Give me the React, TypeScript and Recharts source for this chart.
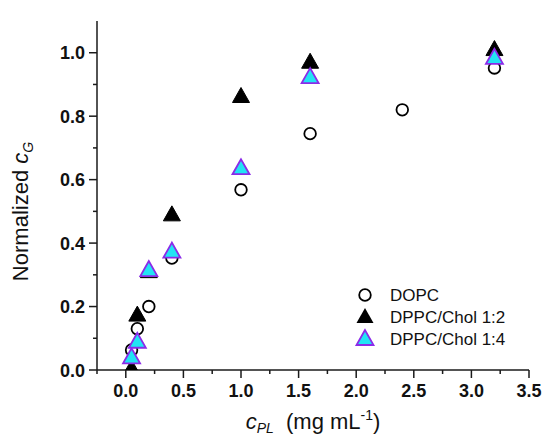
import { ScatterChart, Scatter, XAxis, YAxis, Legend } from 'recharts'

// c_PL (mg/mL) and normalized c_G for each lipid system
const dopcX = [0.05, 0.1, 0.2, 0.4, 1.0, 1.6, 2.4, 3.2]
const dopcY = [0.063, 0.13, 0.2, 0.353, 0.568, 0.745, 0.82, 0.952]

const chol12X = [0.05, 0.1, 0.2, 0.4, 1.0, 1.6, 3.2]
const chol12Y = [0.004, 0.173, 0.31, 0.489, 0.862, 0.97, 1.01]

const chol14X = [0.05, 0.1, 0.2, 0.4, 1.0, 1.6, 3.2]
const chol14Y = [0.04, 0.089, 0.315, 0.373, 0.636, 0.923, 0.984]

const seriesNames = ['DOPC', 'DPPC/Chol 1:2', 'DPPC/Chol 1:4']

const xTicks = [-0.25, 0, 0.25, 0.5, 0.75, 1.0, 1.25, 1.5, 1.75, 2.0, 2.25, 2.5, 2.75, 3.0, 3.25, 3.5]
const yTicks = [0, 0.1, 0.2, 0.3, 0.4, 0.5, 0.6, 0.7, 0.8, 0.9, 1.0]

const toPoints = (xs: number[], ys: number[]) => xs.map((x, i) => ({ x, y: ys[i] }))

const FONT = '"Liberation Sans", Arial, sans-serif'
const AXIS = '#1a1a1a'
const CYAN = '#22e4f4'
const PURPLE = '#8b2be8'

const isMajorX = (v: number) => Math.abs(v * 2 - Math.round(v * 2)) < 1e-6
const isMajorY = (v: number) => Math.abs(v * 5 - Math.round(v * 5)) < 1e-6

const tri = (cx: number, cy: number) =>
    `${cx},${cy - 9} ${cx - 8.5},${cy + 6} ${cx + 8.5},${cy + 6}`

const Circle = (props: any) => (
    <circle cx={props.cx} cy={props.cy} r={5.8} fill="none" stroke="#000" strokeWidth={1.8} />
)
const BlackTri = (props: any) => <polygon points={tri(props.cx, props.cy)} fill="#000" stroke="#000" strokeWidth={1} />
const CyanTri = (props: any) => (
    <polygon points={tri(props.cx, props.cy)} fill={CYAN} stroke={PURPLE} strokeWidth={1.8} />
)

const BottomTick = (props: any) => {
    const { x, y, payload } = props
    const major = isMajorX(payload.value)
    return (
        <g>
            <line x1={x} x2={x} y1={y} y2={y + (major ? 8 : 4)} stroke={AXIS} strokeWidth={1.5} />
            {major && (
                <text x={x} y={y + 27} textAnchor="middle" fontFamily={FONT} fontSize={18} fontWeight="bold" fill="#111">
                    {payload.value.toFixed(1)}
                </text>
            )}
        </g>
    )
}

const TopTick = (props: any) => {
    const { x, y, payload } = props
    const major = isMajorX(payload.value)
    return <line x1={x} x2={x} y1={y} y2={y - (major ? 8 : 4)} stroke={AXIS} strokeWidth={1.5} />
}

const LeftTick = (props: any) => {
    const { x, y, payload } = props
    const major = isMajorY(payload.value)
    return (
        <g>
            <line x1={x - (major ? 8 : 4)} x2={x} y1={y} y2={y} stroke={AXIS} strokeWidth={1.5} />
            {major && (
                <text x={x - 12} y={y + 6.5} textAnchor="end" fontFamily={FONT} fontSize={18} fontWeight="bold" fill="#111">
                    {payload.value.toFixed(1)}
                </text>
            )}
        </g>
    )
}

const RightTick = (props: any) => {
    const { x, y, payload } = props
    const major = isMajorY(payload.value)
    return <line x1={x} x2={x + (major ? 8 : 4)} y1={y} y2={y} stroke={AXIS} strokeWidth={1.5} />
}

const XTitle = (props: any) => {
    const vb = props.viewBox
    const cx = vb.x + vb.width / 2
    return (
        <text x={cx} y={429} textAnchor="middle" fontFamily={FONT} fontSize={22} fill="#111">
            <tspan fontStyle="italic">c</tspan>
            <tspan fontSize={14} fontStyle="italic" dy={4}>PL</tspan>
            <tspan dy={-4}>{'\u00a0\u00a0(mg mL'}</tspan>
            <tspan fontSize={14} dy={-9}>-1</tspan>
            <tspan dy={9}>)</tspan>
        </text>
    )
}

const YTitle = (props: any) => {
    const vb = props.viewBox
    const cy = vb.y + vb.height / 2 + 16
    return (
        <text
            x={28}
            y={cy}
            transform={`rotate(-90, 28, ${cy})`}
            textAnchor="middle"
            fontFamily={FONT}
            fontSize={22}
            fill="#111"
        >
            <tspan>{'Normalized\u00a0'}</tspan>
            <tspan fontStyle="italic">c</tspan>
            <tspan fontSize={14} fontStyle="italic" dy={5}>G</tspan>
        </text>
    )
}

const LegendBox = () => {
    const icons = [
        (cx: number, cy: number) => <circle cx={cx} cy={cy} r={5.8} fill="none" stroke="#000" strokeWidth={1.8} />,
        (cx: number, cy: number) => <polygon points={tri(cx, cy)} fill="#000" />,
        (cx: number, cy: number) => <polygon points={tri(cx, cy)} fill={CYAN} stroke={PURPLE} strokeWidth={1.8} />,
    ]
    return (
        <svg width={180} height={70}>
            {seriesNames.map((name, i) => (
                <g key={name}>
                    {icons[i](12, 12 + i * 22)}
                    <text x={37} y={12 + i * 22 + 6} fontFamily={FONT} fontSize={17} fill="#111">
                        {name}
                    </text>
                </g>
            ))}
        </svg>
    )
}

export default function App () {
    return (
        <div style={{ position: 'absolute', left: 0, top: 0 }}>
            <ScatterChart width={547} height={436} margin={{ top: 21, right: 18, bottom: 0, left: 0 }}>
                <XAxis
                    xAxisId="b"
                    dataKey="x"
                    type="number"
                    domain={[-0.25, 3.5]}
                    ticks={xTicks}
                    interval={0}
                    allowDataOverflow
                    height={66}
                    tickSize={0}
                    tickMargin={0}
                    tick={BottomTick}
                    axisLine={{ stroke: AXIS, strokeWidth: 1.5 }}
                    label={{ content: XTitle }}
                />
                <XAxis
                    xAxisId="t"
                    orientation="top"
                    dataKey="x"
                    type="number"
                    domain={[-0.25, 3.5]}
                    ticks={xTicks}
                    interval={0}
                    allowDataOverflow
                    height={0}
                    tickSize={0}
                    tickMargin={0}
                    tick={TopTick}
                    axisLine={{ stroke: AXIS, strokeWidth: 1.5 }}
                />
                <YAxis
                    yAxisId="l"
                    dataKey="y"
                    type="number"
                    domain={[0, 1.1]}
                    ticks={yTicks}
                    interval={0}
                    allowDataOverflow
                    width={97}
                    tickSize={0}
                    tickMargin={0}
                    tick={LeftTick}
                    axisLine={{ stroke: AXIS, strokeWidth: 1.5 }}
                    label={{ content: YTitle }}
                />
                <YAxis
                    yAxisId="r"
                    orientation="right"
                    dataKey="y"
                    type="number"
                    domain={[0, 1.1]}
                    ticks={yTicks}
                    interval={0}
                    allowDataOverflow
                    width={0}
                    tickSize={0}
                    tickMargin={0}
                    tick={RightTick}
                    axisLine={{ stroke: AXIS, strokeWidth: 1.5 }}
                />
                <Legend
                    layout="vertical"
                    verticalAlign="middle"
                    align="center"
                    content={LegendBox}
                    wrapperStyle={{ left: 353, top: 283, width: 180, height: 70 }}
                />
                <Scatter
                    name={seriesNames[0]}
                    xAxisId="b"
                    yAxisId="l"
                    data={toPoints(dopcX, dopcY)}
                    shape={Circle}
                    isAnimationActive={false}
                />
                <Scatter
                    name={seriesNames[1]}
                    xAxisId="b"
                    yAxisId="l"
                    data={toPoints(chol12X, chol12Y)}
                    shape={BlackTri}
                    isAnimationActive={false}
                />
                <Scatter
                    name={seriesNames[2]}
                    xAxisId="b"
                    yAxisId="l"
                    data={toPoints(chol14X, chol14Y)}
                    shape={CyanTri}
                    isAnimationActive={false}
                />
            </ScatterChart>
        </div>
    )
}
